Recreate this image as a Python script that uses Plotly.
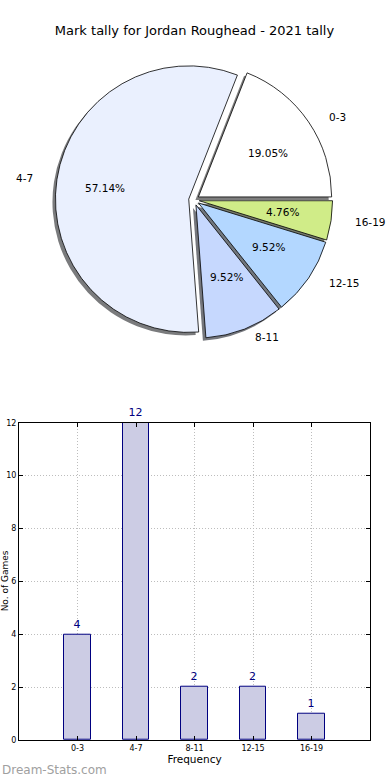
import math
import plotly.graph_objects as go

# ---- data ----
categories = ["0-3", "4-7", "8-11", "12-15", "16-19"]
tally = [4, 12, 2, 2, 1]
title_text = "Mark tally for Jordan Roughead - 2021 tally"
x_title = "Frequency"
y_title = "No. of Games"
y_ticks = [0, 2, 4, 6, 8, 10, 12]

# ---- style ----
pie_colors = ["#ffffff", "#eaf0fe", "#c6d8fe", "#b3d7ff", "#d0ec88"]
W, H = 390, 780
ML, MR, MT, MB = 19, 20, 0, 40
PW, PH = W - ML - MR, H - MT - MB
FONT = "DejaVu Sans"

# pie geometry (pixels)
CX, CY, R = 194, 197, 134
PULL = 0.04
TRX, TRY = 141, 130  # text placement radii

total = sum(tally)
# first slice starts at 3 o'clock and runs counter-clockwise
ROT = 90 - 360 * tally[0] / total


def to_paper(px, py):
    return (px - ML) / PW, 1 - (py - MT) / PH


def pie_domain(cx, cy):
    half = R * (1 + PULL)
    x0, y1 = to_paper(cx - half, cy - half)
    x1, y0 = to_paper(cx + half, cy + half)
    return dict(x=[x0, x1], y=[y0, y1])


def shadow(c):
    c = c.lstrip("#")
    rgb = [int(c[i:i + 2], 16) for i in (0, 2, 4)]
    return "rgb(%d,%d,%d)" % tuple(int(0.5 * 0.3 * v + 0.5 * 255 - 40) for v in rgb)


fig = go.Figure()

# shadow pie
fig.add_trace(go.Pie(
    labels=categories, values=tally, sort=False, direction="counterclockwise",
    rotation=ROT, pull=[PULL] * len(tally), domain=pie_domain(CX - 3, CY + 3),
    marker=dict(colors=[shadow(c) for c in pie_colors], line=dict(width=0)),
    textinfo="none", hoverinfo="skip", showlegend=False,
))
# main pie
fig.add_trace(go.Pie(
    labels=categories, values=tally, sort=False, direction="counterclockwise",
    rotation=ROT, pull=[PULL] * len(tally), domain=pie_domain(CX, CY),
    marker=dict(colors=pie_colors, line=dict(color="black", width=0.8)),
    textinfo="none", showlegend=False,
))

# pie text (percent inside, label outside) computed from the data
start = 0.0
annotations = []
for lab, v in zip(categories, tally):
    frac = v / total
    mid = math.radians(start + 180 * frac)
    start += 360 * frac
    ox = CX + PULL * R * math.cos(mid)
    oy = CY - PULL * R * math.sin(mid)
    px, py = to_paper(ox + 0.6 * TRX * math.cos(mid), oy - 0.6 * TRY * math.sin(mid))
    annotations.append(dict(x=px, y=py, xref="paper", yref="paper", text="%.2f%%" % (100 * frac),
                            showarrow=False, xanchor="center", yanchor="middle",
                            font=dict(size=10.5, color="black")))
    lx, ly = to_paper(ox + 1.1 * TRX * math.cos(mid), oy - 1.1 * TRY * math.sin(mid))
    annotations.append(dict(x=lx, y=ly, xref="paper", yref="paper", text=lab,
                            showarrow=False, xanchor="left" if math.cos(mid) > 0 else "right",
                            yanchor="middle", font=dict(size=10.5, color="black")))

# bar chart
fig.add_trace(go.Bar(
    x=categories, y=tally, width=0.45,
    marker=dict(color="#ccccE4", line=dict(color="#000080", width=1)),
    text=tally, textposition="outside", cliponaxis=False,
    textfont=dict(color="#000080", size=11), showlegend=False,
))

bar_top = 421
annotations.append(dict(x=to_paper(5, 0)[0], y=0.5 * to_paper(0, bar_top)[1], xref="paper", yref="paper",
                        text=y_title, textangle=-90, showarrow=False, xanchor="center", yanchor="middle",
                        font=dict(size=9, color="black")))
annotations.append(dict(x=to_paper(0, 0)[0], y=to_paper(0, 770)[1], xref="paper", yref="paper",
                        text="Dream-Stats.com", showarrow=False, xanchor="left", yanchor="middle",
                        font=dict(size=12, color="#a0a0a0")))

grid = dict(showgrid=True, gridcolor="#bdbdbd", griddash="1px,2px", gridwidth=1)
fig.update_layout(
    width=W, height=H, margin=dict(l=ML, r=MR, t=MT, b=MB),
    paper_bgcolor="white", plot_bgcolor="white",
    font=dict(family=FONT, color="black"),
    title=dict(text=title_text, x=0.5, xref="paper", xanchor="center", y=1 - 30 / H, yanchor="middle",
               font=dict(size=13)),
    annotations=annotations,
    xaxis=dict(domain=[0, 1], range=[-1, 5], showline=True, linecolor="black", linewidth=1, mirror="ticks",
               ticks="inside", ticklen=4, tickcolor="black", tickfont=dict(size=8),
               title=dict(text=x_title, font=dict(size=10.5), standoff=4), zeroline=False, **grid),
    yaxis=dict(domain=[0, to_paper(0, bar_top)[1]], range=[0, 12], tickvals=y_ticks, showline=True,
               linecolor="black", linewidth=1, mirror="ticks", ticks="inside", ticklen=4, tickcolor="black",
               tickfont=dict(size=8), zeroline=False, **grid),
    bargap=0,
)

fig.write_html("out.html", config={"displayModeBar": False},
               post_script="document.body.style.margin='0px';")
